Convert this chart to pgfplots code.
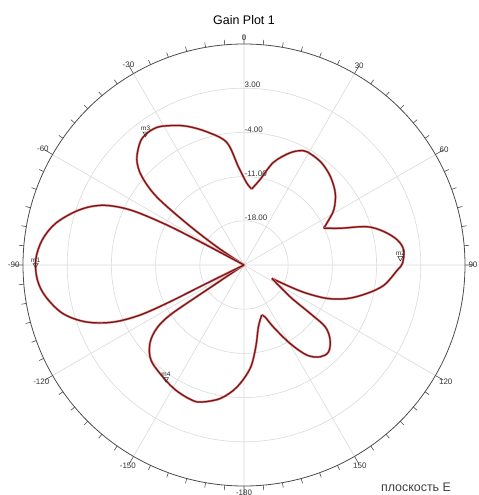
\documentclass[border=0pt]{standalone}
\usepackage{fontspec}
\setmainfont{Liberation Sans}
\usepackage{pgfplots}
\pgfplotsset{compat=1.18}
\usepgfplotslibrary{polar}
\definecolor{curvec}{RGB}{115,22,22}
\definecolor{glowc}{RGB}{228,130,130}
\definecolor{gridc}{RGB}{218,218,218}
\begin{document}
\begin{tikzpicture}[x=1bp,y=1bp]
\path[use as bounding box] (-244,-230) rectangle (235,265);
\begin{polaraxis}[
  at={(0,0)}, anchor=center,
  scale only axis, width=442bp, height=442bp,
  xmin=0, xmax=360, ymin=0, ymax=35,
  xtick={0,30,...,330},
  xticklabels={90,60,30,0,-30,-60,-90,-120,-150,-180,150,120},
  minor x tick num=5,
  ytick={7,14,21,28},
  yticklabels={},
  grid=major,
  major grid style={gridc, line width=0.6bp},
  axis line style={black!70, line width=0.8bp},
  y axis line style={draw=none},
  tick align=inside,
  major tick length=9bp, minor tick length=5bp,
  xtick style={black!70, line width=0.6bp},
  ytick style={draw=none},
  xticklabel style={font=\fontsize{8}{9}\selectfont, text=black!80},
  clip=false,
  seg/.style={curvec, line width=1.2bp, smooth, tension=0.55,
    preaction={draw, glowc, line width=2.3bp}},
]
% segment A
\addplot[seg] table {
150 0
146.2 5.2
144 11.3
142 17.6
139 21.5
135.5 23.8
130.5 25.4
127 25.9
122.4 25.8
118 25.0
112.5 23.8
105.6 21.9
98 19.6
93.3 15.6
88.1 13.0
84.2 12.1
};
% segment B
\addplot[seg] table {
84.2 12.1
79.3 13.8
74 16.9
67.7 19.2
62.6 20.4
58.4 20.5
52.6 20.3
45.8 19.6
38.2 18.4
31.6 16.7
26.8 14.7
24.8 13.9
};
% segment C
\addplot[seg] table {
24.8 13.9
20.9 16.3
17.3 20.4
13.4 22.8
9.3 24.6
5.4 25.4
0.6 25.1
-1.9 24.3
-8.2 22.4
-13 20.0
-18 17.2
-21.9 14.2
-24.3 10.9
-25.3 8.1
-25.6 4.9
};
% segment D
\addplot[seg] table {
-25.6 4.9
-34.6 8.9
-36.2 13.0
-37.3 16.2
-41.1 18.1
-45.8 19.2
-50.3 18.9
-55.1 17.4
-59.6 14.4
-64.6 10.9
-67.9 8.9
-70.5 8.4
};
% segment E
\addplot[seg] table {
-70.5 8.4
-77 10.1
-81.8 13.1
-86.6 16.4
-93.4 19.4
-100.2 21.5
-107.8 22.8
-112 22.9
-118.3 22.6
-124.9 22.0
-134.2 21.1
-140.2 19.4
-144 17.1
-145.9 14.2
-146.2 9.0
-150 0
};
% segment F
\addplot[seg] table {
-150 0
-153.8 7.2
-153.6 13.1
-154.3 18.3
-156.5 22.7
-160.2 26.6
-165 29.7
-170.9 31.8
-175.8 32.8
-181.4 33.0
-187.1 32.2
-192.6 30.5
-198.5 27.5
-202.9 24.3
-205.8 20.1
-207.3 14.4
-207.9 8.5
-210 0
};
% markers
\addplot[only marks, mark=triangle, mark size=3bp,
  mark options={rotate=180, draw=black!80, fill=white, line width=0.5bp},
  nodes near coords, point meta=explicit symbolic,
  nodes near coords style={font=\fontsize{6.5}{7}\selectfont, text=black!85, anchor=south, inner sep=1bp, yshift=1.5bp}]
  table[meta=lab] {
phi R lab
180 33.0 m1
2.6 24.8 m2
126.8 26.0 m3
235.6 21.9 m4
};
\node[anchor=west, font=\fontsize{8}{9}\selectfont, text=black!80, inner sep=0.5bp, yshift=3bp] at (axis cs:90,28) {3.00};
\node[anchor=west, font=\fontsize{8}{9}\selectfont, text=black!80, inner sep=0.5bp, yshift=3bp] at (axis cs:90,21) {-4.00};
\node[anchor=west, font=\fontsize{8}{9}\selectfont, text=black!80, inner sep=0.5bp, yshift=3bp] at (axis cs:90,14) {-11.00};
\node[anchor=west, font=\fontsize{8}{9}\selectfont, text=black!80, inner sep=0.5bp, yshift=3bp] at (axis cs:90,7) {-18.00};
\end{polaraxis}
\node[font=\fontsize{12.5}{14}\selectfont] at (0,245) {Gain Plot 1};
\node[font=\fontsize{12.5}{14}\selectfont, text=black!75] at (172,-222) {плоскость E};
\end{tikzpicture}
\end{document}
